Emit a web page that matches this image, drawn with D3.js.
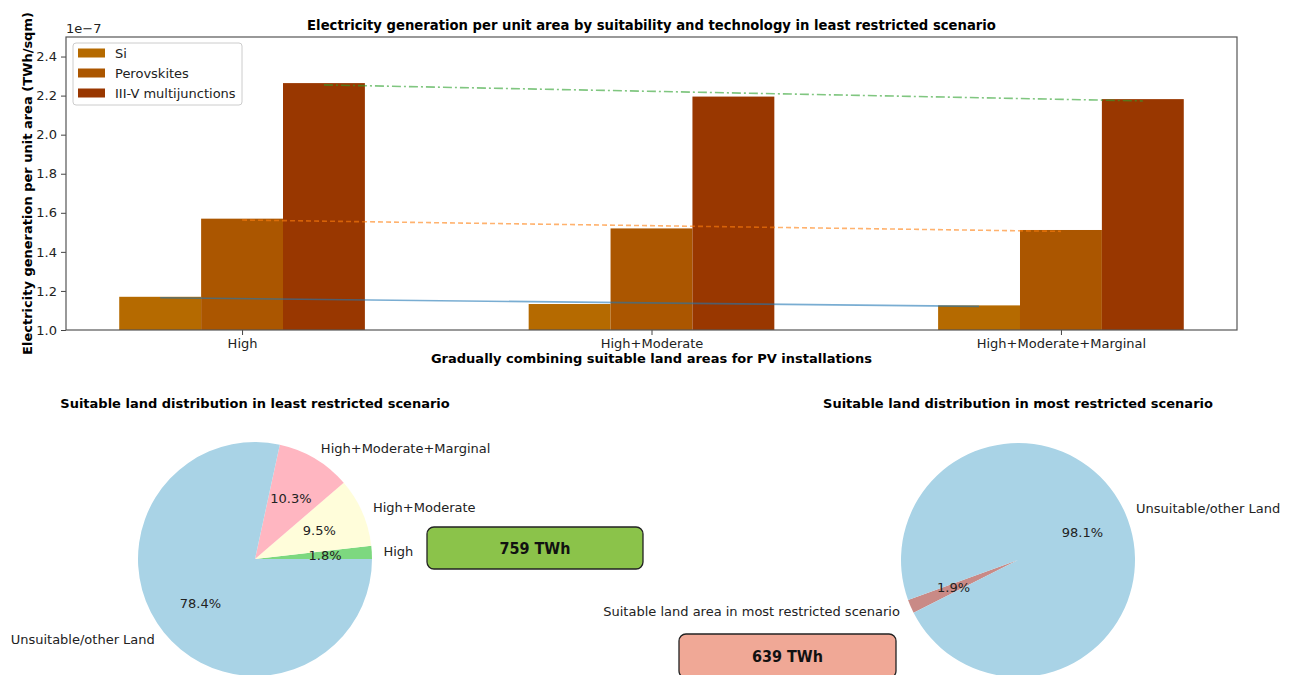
<!DOCTYPE html>
<html>
<head>
<meta charset="utf-8">
<script src="https://cdn.jsdelivr.net/npm/d3@7"></script>
<style>
  html, body { margin: 0; padding: 0; background: #fff; }
  svg { display: block; font-family: "DejaVu Sans", sans-serif; }
</style>
</head>
<body>
<svg id="chart" width="1293" height="675"></svg>
<script>
// Land-suitability groupings on the x axis
const groups = ["High", "High+Moderate", "High+Moderate+Marginal"];
// PV technologies (bar series)
const technologies = ["Si", "Perovskites", "III-V multijunctions"];
// Electricity generation per unit area, in units of 1e-7 TWh/sqm
const siValues = [1.17, 1.133, 1.126];
const perovskiteValues = [1.57, 1.52, 1.512];
const multijunctionValues = [2.264, 2.195, 2.182];
const yTicks = [1.0, 1.2, 1.4, 1.6, 1.8, 2.0, 2.2, 2.4];

// Least restricted scenario land shares (%)
const leastLabels = ["High", "High+Moderate", "High+Moderate+Marginal", "Unsuitable/other Land"];
const leastShares = [1.8, 9.5, 10.3, 78.4];
// Most restricted scenario land shares (%)
const mostLabels = ["Suitable land area in most restricted scenario", "Unsuitable/other Land"];
const mostShares = [1.9, 98.1];
// Total generation callouts
const leastTotal = "759 TWh";
const mostTotal = "639 TWh";

const seriesValues = [siValues, perovskiteValues, multijunctionValues];
const barColors = ["#b56a00", "#ab5600", "#993700"];
const trendColors = ["#1f77b4", "#ff7f0e", "#2ca02c"];
const trendDash = [null, "5,3", "9,3,2,3"];

const svg = d3.select("#chart");
svg.append("rect").attr("width", 1293).attr("height", 675).attr("fill", "#fff");

// ---------- Bar chart ----------
const plotLeft = 66, plotRight = 1237, plotTop = 37, plotBottom = 330;
const x = d3.scalePoint().domain(groups).range([plotLeft, plotRight]).padding(0.43);
const step = x.step();
const xInner = d3.scaleBand().domain(technologies).range([-0.3 * step, 0.3 * step]);
const y = d3.scaleLinear().domain([1.0, 2.5]).range([plotBottom, plotTop]);

const barG = svg.append("g");

technologies.forEach((tech, s) => {
  barG.append("g").selectAll("rect")
    .data(groups.map((g, i) => ({ g, v: seriesValues[s][i] })))
    .join("rect")
    .attr("x", d => x(d.g) + xInner(tech))
    .attr("width", xInner.bandwidth())
    .attr("y", d => y(d.v))
    .attr("height", d => y(1.0) - y(d.v))
    .attr("fill", barColors[s]);
});

// Least-squares trend line per technology
technologies.forEach((tech, s) => {
  const vals = seriesValues[s];
  const n = vals.length;
  const xs = d3.range(n);
  const mx = d3.mean(xs), my = d3.mean(vals);
  const slope = d3.sum(xs, i => (i - mx) * (vals[i] - my)) / d3.sum(xs, i => (i - mx) ** 2);
  const icpt = my - slope * mx;
  const pts = [0, n - 1].map(i => [x(groups[i]) + xInner(tech) + xInner.bandwidth() / 2, y(icpt + slope * i)]);
  barG.append("path")
    .attr("d", d3.line()(pts))
    .attr("fill", "none")
    .attr("stroke", trendColors[s])
    .attr("stroke-opacity", 0.6)
    .attr("stroke-width", 1.6)
    .attr("stroke-dasharray", trendDash[s]);
});

// Axes
const yAxis = barG.append("g").attr("transform", `translate(${plotLeft},0)`)
  .call(d3.axisLeft(y).tickValues(yTicks).tickFormat(d3.format(".1f")).tickSize(5).tickPadding(4));
const xAxis = barG.append("g").attr("transform", `translate(0,${plotBottom})`)
  .call(d3.axisBottom(x).tickSize(5).tickPadding(4));
[yAxis, xAxis].forEach(a => {
  a.select(".domain").remove();
  a.selectAll("line").attr("stroke", "#444");
  a.selectAll("text").attr("font-size", 13).attr("fill", "#222").attr("font-family", "DejaVu Sans");
});
// Frame
barG.append("rect")
  .attr("x", plotLeft).attr("y", plotTop).attr("width", plotRight - plotLeft).attr("height", plotBottom - plotTop)
  .attr("fill", "none").attr("stroke", "#555").attr("stroke-width", 1.2);

barG.append("text").attr("x", plotLeft).attr("y", 33).attr("font-size", 13).attr("fill", "#222").text("1e\u22127");

barG.append("text")
  .attr("x", (plotLeft + plotRight) / 2).attr("y", 30)
  .attr("text-anchor", "middle").attr("font-size", 13.2).attr("font-weight", "bold")
  .text("Electricity generation per unit area by suitability and technology in least restricted scenario");

barG.append("text")
  .attr("transform", `translate(32,${(plotTop + plotBottom) / 2}) rotate(-90)`)
  .attr("text-anchor", "middle").attr("font-size", 13).attr("font-weight", "bold")
  .text("Electricity generation per unit area (TWh/sqm)");

barG.append("text")
  .attr("x", (plotLeft + plotRight) / 2).attr("y", 363)
  .attr("text-anchor", "middle").attr("font-size", 13).attr("font-weight", "bold")
  .text("Gradually combining suitable land areas for PV installations");

// Legend
const legend = barG.append("g").attr("transform", "translate(73,43)");
legend.append("rect").attr("width", 169).attr("height", 62).attr("rx", 3)
  .attr("fill", "#fff").attr("fill-opacity", 0.85).attr("stroke", "#ccc");
technologies.forEach((tech, s) => {
  const ly = 10 + s * 20;
  legend.append("rect").attr("x", 5).attr("y", ly - 4.5).attr("width", 27).attr("height", 9).attr("fill", barColors[s]);
  legend.append("text").attr("x", 42).attr("y", ly).attr("dy", "0.35em")
    .attr("font-size", 13).attr("fill", "#222").text(tech);
});

// ---------- Pie charts ----------
function drawPie(cx, cy, r, labels, values, colors, startDeg, title) {
  const g = svg.append("g").attr("transform", `translate(${cx},${cy})`);
  // counter-clockwise from 3 o'clock
  const a0 = (90 - startDeg) * Math.PI / 180;
  const pie = d3.pie().sort(null).startAngle(a0).endAngle(a0 - 2 * Math.PI);
  const arcs = pie(values);
  const total = d3.sum(values);
  const arc = d3.arc().innerRadius(0).outerRadius(r);
  g.selectAll("path").data(arcs).join("path")
    .attr("d", arc).attr("fill", (d, i) => colors[i]);
  const labelArc = d3.arc().innerRadius(r * 1.1).outerRadius(r * 1.1);
  const pctArc = d3.arc().innerRadius(r * 0.6).outerRadius(r * 0.6);
  g.selectAll("text.lab").data(arcs).join("text").attr("class", "lab")
    .attr("x", d => labelArc.centroid(d)[0])
    .attr("y", d => labelArc.centroid(d)[1])
    .attr("dy", "0.35em")
    .attr("text-anchor", d => labelArc.centroid(d)[0] > 0 ? "start" : "end")
    .attr("font-size", 13).attr("fill", "#222")
    .text((d, i) => labels[i]);
  g.selectAll("text.pct").data(arcs).join("text").attr("class", "pct")
    .attr("x", d => pctArc.centroid(d)[0])
    .attr("y", d => pctArc.centroid(d)[1])
    .attr("dy", "0.35em")
    .attr("text-anchor", "middle")
    .attr("font-size", 13).attr("fill", "#222")
    .text(d => d3.format(".1f")(d.value / total * 100) + "%");
  svg.append("text").attr("x", cx).attr("y", 408)
    .attr("text-anchor", "middle").attr("font-size", 13).attr("font-weight", "bold")
    .text(title);
}

drawPie(255, 559, 117, leastLabels, leastShares,
  ["#7dd87f", "#fffdda", "#ffb6c1", "#a9d3e6"], 0,
  "Suitable land distribution in least restricted scenario");
drawPie(1018, 560, 117, mostLabels, mostShares,
  ["#c98a86", "#a9d3e6"], 200,
  "Suitable land distribution in most restricted scenario");

// ---------- Total callouts ----------
function callout(x0, y0, w, h, fill, label) {
  svg.append("rect").attr("x", x0).attr("y", y0).attr("width", w).attr("height", h)
    .attr("rx", 7).attr("fill", fill).attr("stroke", "#222").attr("stroke-width", 1.3);
  svg.append("text").attr("x", x0 + w / 2).attr("y", y0 + h / 2).attr("dy", "0.35em")
    .attr("text-anchor", "middle").attr("font-size", 16).attr("font-weight", "bold").attr("fill", "#111")
    .attr("font-family", "'DejaVu Sans Condensed', 'DejaVu Sans', sans-serif")
    .attr("font-stretch", "condensed")
    .text(label);
}
callout(427, 527, 216, 42, "#8bc34a", leastTotal);
callout(679, 634, 217, 44, "#f0a896", mostTotal);
</script>
</body>
</html>
